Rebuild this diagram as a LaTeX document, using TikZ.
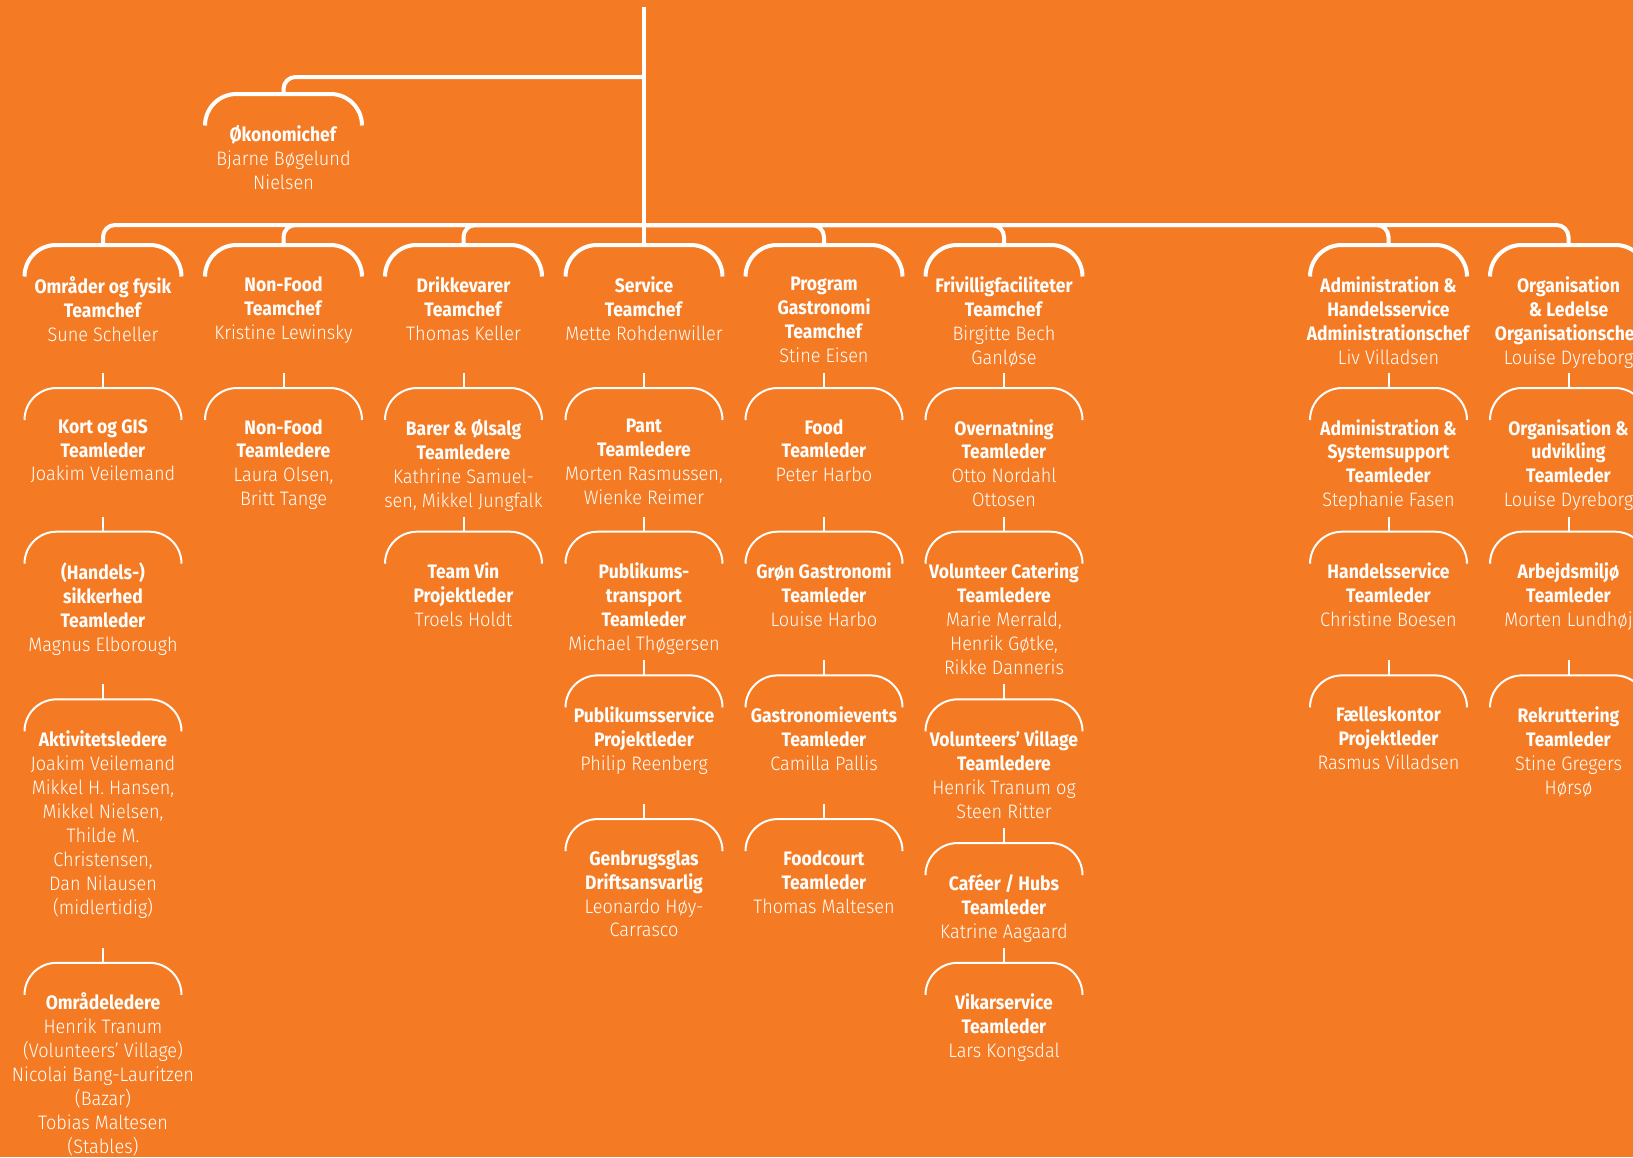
\documentclass[tikz,border=0pt]{standalone}
\usepackage{fontspec}
\setmainfont{Fira Sans}[UprightFont=* Light, BoldFont=* Bold,
    UprightFeatures={FakeStretch=0.93}, BoldFeatures={FakeStretch=0.9}]
\usetikzlibrary{positioning}

\definecolor{bgorange}{RGB}{244,123,35}

\begin{document}
\begin{tikzpicture}[
    x=1pt, y=-1pt,
    bar/.style={draw=white, line width=4pt, rounded corners=12pt},
    head/.style={draw=white, line width=4pt},
    sub/.style={draw=white, line width=2pt},
    role/.style={anchor=north, align=center, inner sep=0pt, text=white, font=\fontsize{19.5}{23.95}\selectfont,
                 execute at begin node={\rule{0pt}{18pt}}},
    headbr/.pic={\draw[head] (-78.5,31.5) .. controls (-78.5,14.1) and (-64.4,0) .. (-47,0) -- (47,0) .. controls (64.4,0) and (78.5,14.1) .. (78.5,31.5);},
    subbr/.pic={\draw[sub] (0,-15) -- (0,0);
                \draw[sub] (-78.5,32) .. controls (-78.5,14.3) and (-64.2,0) .. (-46.5,0) -- (46.5,0) .. controls (64.2,0) and (78.5,14.3) .. (78.5,32);}
]

\fill[bgorange] (0,0) rectangle (1633,1157);
\useasboundingbox (0,0) rectangle (1633,1157);
\clip (0,0) rectangle (1633,1157);

% top of the tree
\coordinate (root) at (644,7);
\coordinate (j1) at (644,77);
\coordinate (j2) at (644,225);
\coordinate (okon) at (283.5,94);
\coordinate (omr) at (103,245);
\coordinate (nonfood) at (283.5,245);
\coordinate (drikke) at (463.5,245);
\coordinate (service) at (644,245);
\coordinate (program) at (824,245);
\coordinate (friv) at (1004,245);
\coordinate (admin) at (1388.5,245);
\coordinate (org) at (1568.5,245);

\draw[bar] (root) -- (service);
\draw[bar] (j1) -| (okon);
\foreach \c in {omr,nonfood,drikke,program,friv,admin,org}
    \draw[bar] (j2) -| (\c);

\foreach \c in {okon,omr,nonfood,drikke,service,program,friv,admin,org}
    \pic at (\c) {headbr};

\node[role, below=31pt of okon] (okon-t) {\textbf{Økonomichef}\\Bjarne Bøgelund\\Nielsen};
\node[role, below=31.5pt of omr] (omr-t) {\textbf{Områder og fysik}\\\textbf{Teamchef}\\Sune Scheller};
\node[role, below=31.5pt of nonfood] (nonfood-t) {\textbf{Non-Food}\\\textbf{Teamchef}\\Kristine Lewinsky};
\node[role, below=31.5pt of drikke] (drikke-t) {\textbf{Drikkevarer}\\\textbf{Teamchef}\\Thomas Keller};
\node[role, below=31.5pt of service] (service-t) {\textbf{Service}\\\textbf{Teamchef}\\Mette Rohdenwiller};
\node[role, below=31.5pt of program] (program-t) {\textbf{Program}\\\textbf{Gastronomi}\\\textbf{Teamchef}\\Stine Eisen};
\node[role, below=31.5pt of friv] (friv-t) {\textbf{Frivilligfaciliteter}\\\textbf{Teamchef}\\Birgitte Bech\\Ganløse};
\node[role, below=31.5pt of admin] (admin-t) {\textbf{Administration \&}\\\textbf{Handelsservice}\\\textbf{Administrationschef}\\Liv Villadsen};
\node[role, below=31.5pt of org] (org-t) {\textbf{Organisation}\\\textbf{\& Ledelse}\\\textbf{Organisationschef}\\Louise Dyreborg};

% Områder og fysik
\pic at (103,388) {subbr};
\node[role] (kort) at (103,419) {\textbf{Kort og GIS}\\\textbf{Teamleder}\\Joakim Veilemand};
\pic at (103,531.7) {subbr};
\node[role] (sikkerhed) at (103,562.7) {\textbf{(Handels-)}\\\textbf{sikkerhed}\\\textbf{Teamleder}\\Magnus Elborough};
\pic at (103,699.35) {subbr};
\node[role] (aktivitet) at (103,730.35) {\textbf{Aktivitetsledere}\\Joakim Veilemand\\Mikkel H. Hansen,\\Mikkel Nielsen,\\Thilde M.\\Christensen,\\Dan Nilausen\\(midlertidig)};
\pic at (103,962.8) {subbr};
\node[role] (omraade) at (103,992.8) {\textbf{Områdeledere}\\Henrik Tranum\\(Volunteers’ Village)\\Nicolai Bang-Lauritzen\\(Bazar)\\Tobias Maltesen\\(Stables)};

% Non-Food
\pic at (283.5,388) {subbr};
\node[role] (nonfood2) at (283.5,419) {\textbf{Non-Food}\\\textbf{Teamledere}\\Laura Olsen,\\Britt Tange};

% Drikkevarer
\pic at (463.5,388) {subbr};
\node[role] (barer) at (463.5,419) {\textbf{Barer \& Ølsalg}\\\textbf{Teamledere}\\Kathrine Samuel-\\sen, Mikkel Jungfalk};
\pic at (463.5,531.7) {subbr};
\node[role] (vin) at (463.5,562.7) {\textbf{Team Vin}\\\textbf{Projektleder}\\Troels Holdt};

% Service
\pic at (644,388) {subbr};
\node[role] (pant) at (644,419) {\textbf{Pant}\\\textbf{Teamledere}\\Morten Rasmussen,\\Wienke Reimer};
\pic at (644,531.7) {subbr};
\node[role] (transport) at (644,562.7) {\textbf{Publikums-}\\\textbf{transport}\\\textbf{Teamleder}\\Michael Thøgersen};
\pic at (644,675.4) {subbr};
\node[role] (pubservice) at (644,706.4) {\textbf{Publikumsservice}\\\textbf{Projektleder}\\Philip Reenberg};
\pic at (644,819.1) {subbr};
\node[role] (genbrug) at (644,850.1) {\textbf{Genbrugsglas}\\\textbf{Driftsansvarlig}\\Leonardo Høy-\\Carrasco};

% Program Gastronomi
\pic at (824,388) {subbr};
\node[role] (food) at (824,419) {\textbf{Food}\\\textbf{Teamleder}\\Peter Harbo};
\pic at (824,531.7) {subbr};
\node[role] (groen) at (824,562.7) {\textbf{Grøn Gastronomi}\\\textbf{Teamleder}\\Louise Harbo};
\pic at (824,675.4) {subbr};
\node[role] (events) at (824,706.4) {\textbf{Gastronomievents}\\\textbf{Teamleder}\\Camilla Pallis};
\pic at (824,819.1) {subbr};
\node[role] (foodcourt) at (824,850.1) {\textbf{Foodcourt}\\\textbf{Teamleder}\\Thomas Maltesen};

% Frivilligfaciliteter
\pic at (1004,388) {subbr};
\node[role] (overnat) at (1004,419) {\textbf{Overnatning}\\\textbf{Teamleder}\\Otto Nordahl\\Ottosen};
\pic at (1004,531.7) {subbr};
\node[role] (catering) at (1004,562.7) {\textbf{Volunteer Catering}\\\textbf{Teamledere}\\Marie Merrald,\\Henrik Gøtke,\\Rikke Danneris};
\pic at (1004,699.35) {subbr};
\node[role] (village) at (1004,730.35) {\textbf{Volunteers’ Village}\\\textbf{Teamledere}\\Henrik Tranum og\\Steen Ritter};
\pic at (1004,843.05) {subbr};
\node[role] (cafe) at (1004,874.05) {\textbf{Caféer / Hubs}\\\textbf{Teamleder}\\Katrine Aagaard};
\pic at (1004,962.8) {subbr};
\node[role] (vikar) at (1004,993.8) {\textbf{Vikarservice}\\\textbf{Teamleder}\\Lars Kongsdal};

% Administration & Handelsservice
\pic at (1388.5,388) {subbr};
\node[role] (system) at (1388.5,419) {\textbf{Administration \&}\\\textbf{Systemsupport}\\\textbf{Teamleder}\\Stephanie Fasen};
\pic at (1388.5,531.7) {subbr};
\node[role] (handel) at (1388.5,562.7) {\textbf{Handelsservice}\\\textbf{Teamleder}\\Christine Boesen};
\pic at (1388.5,675.4) {subbr};
\node[role] (faelles) at (1388.5,706.4) {\textbf{Fælleskontor}\\\textbf{Projektleder}\\Rasmus Villadsen};

% Organisation & Ledelse
\pic at (1568.5,388) {subbr};
\node[role] (udvikling) at (1568.5,419) {\textbf{Organisation \&}\\\textbf{udvikling}\\\textbf{Teamleder}\\Louise Dyreborg};
\pic at (1568.5,531.7) {subbr};
\node[role] (miljoe) at (1568.5,562.7) {\textbf{Arbejdsmiljø}\\\textbf{Teamleder}\\Morten Lundhøj};
\pic at (1568.5,675.4) {subbr};
\node[role] (rekrut) at (1568.5,706.4) {\textbf{Rekruttering}\\\textbf{Teamleder}\\Stine Gregers\\Hørsø};

\end{tikzpicture}
\end{document}
